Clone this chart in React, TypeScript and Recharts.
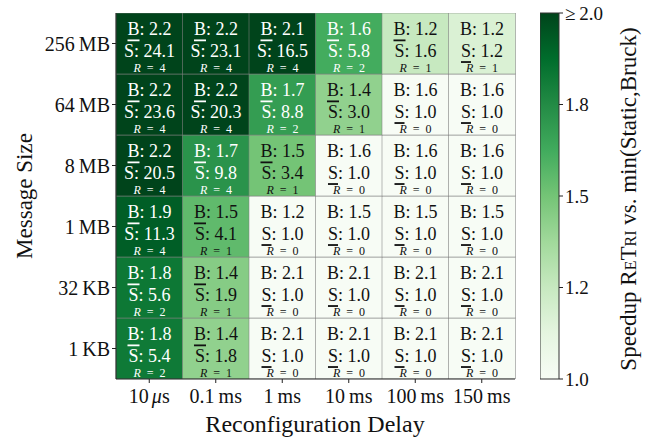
import { BarChart, Bar, XAxis, YAxis, Cell, LabelList } from "recharts";

const FONT = "Liberation Serif, serif";
const serif = { fontFamily: FONT };

// columns (left to right) and rows (top to bottom)
const delays = ["10 \u03bcs", "0.1 ms", "1 ms", "10 ms", "100 ms", "150 ms"];
const sizes = ["256\u2009MB", "64\u2009MB", "8\u2009MB", "1\u2009MB", "32\u2009KB", "1\u2009KB"];

// speedup vs Bruck
const bruck = [
  [2.2, 2.2, 2.1, 1.6, 1.2, 1.2],
  [2.2, 2.2, 1.7, 1.4, 1.6, 1.6],
  [2.2, 1.7, 1.5, 1.6, 1.6, 1.6],
  [1.9, 1.5, 1.2, 1.5, 1.5, 1.5],
  [1.8, 1.4, 2.1, 2.1, 2.1, 2.1],
  [1.8, 1.4, 2.1, 2.1, 2.1, 2.1],
];

// speedup vs Static
const statik = [
  [24.1, 23.1, 16.5, 5.8, 1.6, 1.2],
  [23.6, 20.3, 8.8, 3.0, 1.0, 1.0],
  [20.5, 9.8, 3.4, 1.0, 1.0, 1.0],
  [11.3, 4.1, 1.0, 1.0, 1.0, 1.0],
  [5.6, 1.9, 1.0, 1.0, 1.0, 1.0],
  [5.4, 1.8, 1.0, 1.0, 1.0, 1.0],
];

const reconfigs = [
  [4, 4, 4, 2, 1, 1],
  [4, 4, 2, 1, 0, 0],
  [4, 4, 1, 0, 0, 0],
  [4, 1, 0, 0, 0, 0],
  [2, 1, 0, 0, 0, 0],
  [2, 1, 0, 0, 0, 0],
];

// unrounded min speedup
const speedup = [
  [2.2, 2.2, 2.1, 1.62, 1.25, 1.17],
  [2.2, 2.2, 1.68, 1.42, 1.0, 1.0],
  [2.2, 1.72, 1.5, 1.0, 1.0, 1.0],
  [1.92, 1.55, 1.0, 1.0, 1.0, 1.0],
  [1.83, 1.45, 1.0, 1.0, 1.0, 1.0],
  [1.82, 1.42, 1.0, 1.0, 1.0, 1.0],
];

const cbTicks = [1, 1.25, 1.5, 1.75, 2];
const cbLabels = ["1.0", "1.2", "1.5", "1.8", "\u2265\u20092.0"];

const GREENS = ["#f7fcf5", "#e5f5e0", "#c7e9c0", "#a1d99b", "#74c476", "#41ab5d", "#238b45", "#006d2c", "#00441b"];

function hex(c: string) {
  return [1, 3, 5].map((i) => parseInt(c.slice(i, i + 2), 16));
}

function greens(v: number) {
  const t = Math.max(0, Math.min(1, v - 1)) * 8;
  const i = Math.min(7, Math.floor(t));
  const f = t - i;
  const a = hex(GREENS[i]);
  const b = hex(GREENS[i + 1]);
  const c = a.map((x, k) => Math.round(x + (b[k] - x) * f));
  return `rgb(${c.join(",")})`;
}

// one stacked unit per row so that each column becomes a column of cells
const table = delays.map((d) => {
  const row: Record<string, string | number> = { delay: d };
  sizes.forEach((_, r) => (row[`r${r}`] = 1));
  return row;
});

const cbData = [{ name: "cb", range: [1, 2] }];

// eslint-disable-next-line @typescript-eslint/no-explicit-any
function DelayTick(props: any) {
  const { x, y, payload } = props;
  const label: string = payload.value;
  const parts = label.split("\u03bc");
  return (
    <text x={x} y={Number(y) + 4} textAnchor="middle" dominantBaseline="hanging" fontSize={20} style={serif} fill="#111">
      {parts.length > 1 ? (
        <>
          <tspan>{parts[0].trim()}</tspan>
          <tspan dx={3} fontStyle="italic">{"\u03bc"}</tspan>
          <tspan>{parts[1]}</tspan>
        </>
      ) : (
        label.replace(" ", "\u2009")
      )}
    </text>
  );
}

// eslint-disable-next-line @typescript-eslint/no-explicit-any
function SideTick(props: any) {
  const { x, y, payload, textAnchor, fontSize, labels, values } = props;
  const text = labels ? labels[values.indexOf(payload.value)] : payload.value;
  return (
    <text x={x} y={y} textAnchor={textAnchor} dominantBaseline="central" fontSize={fontSize} style={serif} fill="#111">
      {text}
    </text>
  );
}

function cellLabel(r: number) {
  // eslint-disable-next-line @typescript-eslint/no-explicit-any
  return (props: any) => {
    const { x, y, width, height, index } = props;
    const c = index as number;
    const b = bruck[r][c];
    const s = statik[r][c];
    const underB = b < s;
    const fill = speedup[r][c] > 1.58 ? "#ffffff" : "#111111";
    const cx = Number(x) + Number(width) / 2;
    const top = Number(y);
    const h = Number(height);
    return (
      <g key={`lab-${r}-${c}`} fill={fill} fontFamily={FONT} style={serif}>
        <text x={cx} y={top + h * 0.27} textAnchor="middle" dominantBaseline="central" fontSize={18} fontFamily={FONT} style={serif}>
          <tspan style={{ fontFamily: FONT, textDecoration: underB ? "underline" : "none" }}>B</tspan>
          <tspan style={serif}>{`: ${b.toFixed(1)}`}</tspan>
        </text>
        <text x={cx} y={top + h * 0.625} textAnchor="middle" dominantBaseline="central" fontSize={18} fontFamily={FONT} style={serif}>
          <tspan style={{ fontFamily: FONT, textDecoration: underB ? "none" : "underline" }}>S</tspan>
          <tspan style={serif}>{`: ${s.toFixed(1)}`}</tspan>
        </text>
        <text x={cx} y={top + h * 0.9} textAnchor="middle" dominantBaseline="central" fontSize={12} fontFamily={FONT} style={serif}>
          <tspan fontStyle="italic" style={serif}>R</tspan>
          <tspan style={serif}>{`\u2002=\u2002${reconfigs[r][c]}`}</tspan>
        </text>
      </g>
    );
  };
}

export default function App() {
  const bottomUp = sizes.map((_, i) => sizes.length - 1 - i);
  const sizeTicks = sizes.map((_, i) => i + 0.5);
  const sizeLabels = [...sizes].reverse();
  return (
    <div
      style={{
        position: "absolute",
        left: 0,
        top: 0,
        width: 657,
        height: 440,
        background: "#fff",
        fontFamily: FONT,
        color: "#111",
      }}
    >
      <div style={{ position: "absolute", left: 0, top: 0 }}>
        <BarChart
          width={530}
          height={440}
          data={table}
          margin={{ top: 13, right: 15, bottom: 31, left: 36 }}
          barCategoryGap={0}
          barGap={0}
        >
          <XAxis
            dataKey="delay"
            height={30}
            tick={<DelayTick />}
            tickLine={{ stroke: "#222" }}
            axisLine={{ stroke: "#222" }}
            tickSize={4}
            interval={0}
          />
          <YAxis
            type="number"
            width={80}
            domain={[0, sizes.length]}
            ticks={sizeTicks}
            tick={<SideTick fontSize={20} labels={sizeLabels} values={sizeTicks} />}
            tickLine={{ stroke: "#222" }}
            axisLine={{ stroke: "#222" }}
            tickSize={4}
            allowDataOverflow
          />
          {bottomUp.map((r) => (
            <Bar
              key={r}
              dataKey={`r${r}`}
              stackId="cells"
              isAnimationActive={false}
              stroke="rgba(128,128,128,0.55)"
              strokeWidth={1}
            >
              {delays.map((_, c) => (
                <Cell key={c} fill={greens(speedup[r][c])} />
              ))}
              <LabelList dataKey={`r${r}`} content={cellLabel(r)} />
            </Bar>
          ))}
        </BarChart>
      </div>

      <div style={{ position: "absolute", left: 540, top: 0 }}>
        <BarChart
          width={79}
          height={440}
          data={cbData}
          margin={{ top: 13, right: 0, bottom: 61, left: 0 }}
          barCategoryGap={0}
        >
          <defs>
            <linearGradient id="cbGreens" x1="0" y1="1" x2="0" y2="0">
              {GREENS.map((g, i) => (
                <stop key={i} offset={`${(i / 8) * 100}%`} stopColor={g} />
              ))}
            </linearGradient>
          </defs>
          <XAxis dataKey="name" hide />
          <YAxis
            orientation="right"
            type="number"
            width={60}
            domain={[1, 2]}
            ticks={cbTicks}
            tick={<SideTick fontSize={19} labels={cbLabels} values={cbTicks} />}
            tickLine={{ stroke: "#222" }}
            axisLine={false}
            tickSize={4}
          />
          <Bar dataKey="range" fill="url(#cbGreens)" stroke="#333" strokeWidth={1} isAnimationActive={false} />
        </BarChart>
      </div>

      <div
        style={{
          position: "absolute",
          left: 24,
          top: 196,
          transform: "translate(-50%, -50%) rotate(-90deg)",
          whiteSpace: "nowrap",
          fontSize: 23,
          lineHeight: 1,
        }}
      >
        Message Size
      </div>
      <div
        style={{
          position: "absolute",
          left: 315,
          top: 424,
          transform: "translate(-50%, -50%)",
          whiteSpace: "nowrap",
          fontSize: 24,
          lineHeight: 1,
        }}
      >
        Reconfiguration Delay
      </div>
      <div
        style={{
          position: "absolute",
          left: 628,
          top: 199,
          transform: "translate(-50%, -50%) rotate(-90deg)",
          whiteSpace: "nowrap",
          fontSize: 23,
          lineHeight: 1,
        }}
      >
        Speedup <span style={{ fontVariant: "small-caps" }}>ReTri</span> vs. min(Static,Bruck)
      </div>
    </div>
  );
}
